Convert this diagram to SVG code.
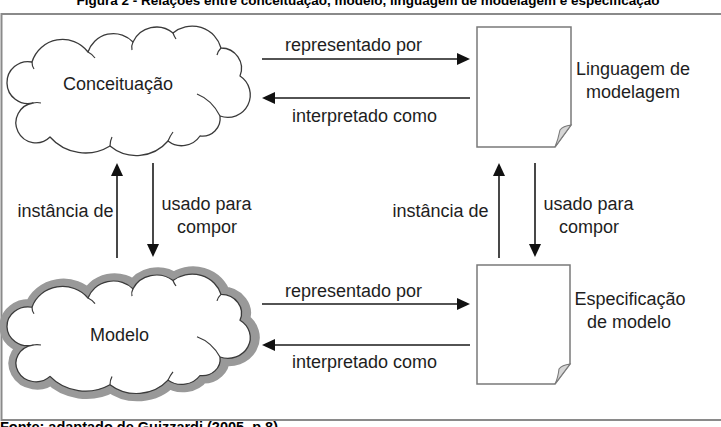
<svg xmlns="http://www.w3.org/2000/svg" xmlns:xlink="http://www.w3.org/1999/xlink" width="721" height="427" viewBox="0 0 721 427">
<style>
text{font-family:"Liberation Sans",Arial,sans-serif;fill:#1e1e1e}
.lbl{font-size:18px}
.cap{font-weight:bold;fill:#000}
.cl{fill:#fff;stroke:#3a3a3a;stroke-width:1.3;vector-effect:non-scaling-stroke;stroke-linejoin:round}
.hook{fill:none;stroke:#3a3a3a;stroke-width:1.2;vector-effect:non-scaling-stroke}
.halo{fill:#999;stroke:#999;stroke-width:17;stroke-linejoin:round;vector-effect:non-scaling-stroke}
.doc{fill:#fff;stroke:#7a7a7a;stroke-width:1.5}
.fold{fill:#d6d6d6;stroke:#7a7a7a;stroke-width:1.1}
.arr{stroke:#1a1a1a;stroke-width:1.6;fill:none;marker-end:url(#ah)}
</style>
<defs>
<marker id="ah" markerUnits="userSpaceOnUse" markerWidth="14" markerHeight="12" refX="10" refY="6" orient="auto">
<path d="M0,0 L13,6 L0,12 Z" fill="#111"/>
</marker>
<path id="cloudPath" d="M32,62 A32,32 0 0,1 88,52 A26.8,26.8 0 0,1 133,42 A26,26 0 0,1 173,33 A30,30 0 0,1 221,48 A20.4,20.4 0 0,1 240,76 A22.5,22.5 0 0,1 220,116 A17.8,17.8 0 0,1 200,136 A22.2,22.2 0 0,1 168,141 A41.5,41.5 0 0,1 110,146 A47.2,47.2 0 0,1 50,137 A20,20 0 1,1 33,103 A21,21 0 1,1 32,62 Z"/>
<path id="cloudHooks" d="M88,52 Q92,54 95,58 M133,42 Q131,46 132,50 M173,33 Q174,36 176,39 M221,48 Q218,51 217,55 M220,116 Q212,100 197,94 M168,141 Q170,136 173,132 M110,146 Q110,141 112,137 M33,103 Q37,102 41,103 M32,62 Q32,66 34,69"/>
</defs>

<rect x="1.5" y="14" width="740" height="406" fill="none" stroke="#8a8a8a" stroke-width="2"/>

<text class="cap" x="368" y="5" font-size="13.5" text-anchor="middle">Figura 2 - Relações entre conceituação, modelo, linguagem de modelagem e especificação</text>
<text class="cap" x="0" y="431.5" font-size="14.5">Fonte: adaptado de Guizzardi (2005, p.8)</text>

<g id="conceituacao">
<use xlink:href="#cloudPath" class="cl"/>
<use xlink:href="#cloudHooks" class="hook"/>
<text class="lbl" x="118" y="90" text-anchor="middle">Conceituação</text>
</g>

<g id="modelo">
<g transform="translate(1,275) scale(1,0.922) translate(0,-27)">
<use xlink:href="#cloudPath" class="halo"/>
</g>
<g transform="translate(0,275) scale(1,0.922) translate(0,-27)">
<use xlink:href="#cloudPath" class="cl"/>
<use xlink:href="#cloudHooks" class="hook"/>
</g>
<text class="lbl" x="119.5" y="341" text-anchor="middle">Modelo</text>
</g>

<g id="linguagem">
<path class="doc" d="M477,27 H571 V125 L555,147 H477 Z"/>
<path class="fold" d="M571,125 Q563,126 560,130 Q558,140 555,147 Z"/>
<text class="lbl" x="633" y="75" text-anchor="middle">Linguagem de</text>
<text class="lbl" x="633" y="98" text-anchor="middle">modelagem</text>
</g>

<g id="especificacao">
<path class="doc" d="M477,265 H570 V364 L555,384 H477 Z"/>
<path class="fold" d="M570,364 Q562,365 559,369 Q558,378 555,384 Z"/>
<text class="lbl" x="630" y="305" text-anchor="middle">Especificação</text>
<text class="lbl" x="629" y="328" text-anchor="middle">de modelo</text>
</g>

<g id="connectors">
<line class="arr" x1="262" y1="59" x2="467" y2="59"/>
<line class="arr" x1="470" y1="98" x2="265" y2="98"/>
<line class="arr" x1="262" y1="304" x2="467" y2="304"/>
<line class="arr" x1="470" y1="345" x2="265" y2="345"/>
<line class="arr" x1="117" y1="258" x2="117" y2="166"/>
<line class="arr" x1="153" y1="163" x2="153" y2="254"/>
<line class="arr" x1="499" y1="258" x2="499" y2="166"/>
<line class="arr" x1="535" y1="163" x2="535" y2="254"/>
<text class="lbl" x="353.5" y="51" text-anchor="middle">representado por</text>
<text class="lbl" x="364.5" y="122" text-anchor="middle">interpretado como</text>
<text class="lbl" x="353.5" y="297" text-anchor="middle">representado por</text>
<text class="lbl" x="364.5" y="368" text-anchor="middle">interpretado como</text>
<text class="lbl" x="65.5" y="217" text-anchor="middle">instância de</text>
<text class="lbl" x="206.5" y="210" text-anchor="middle">usado para</text>
<text class="lbl" x="207" y="233" text-anchor="middle">compor</text>
<text class="lbl" x="440.5" y="217" text-anchor="middle">instância de</text>
<text class="lbl" x="588.5" y="210" text-anchor="middle">usado para</text>
<text class="lbl" x="589" y="233" text-anchor="middle">compor</text>
</g>
</svg>
